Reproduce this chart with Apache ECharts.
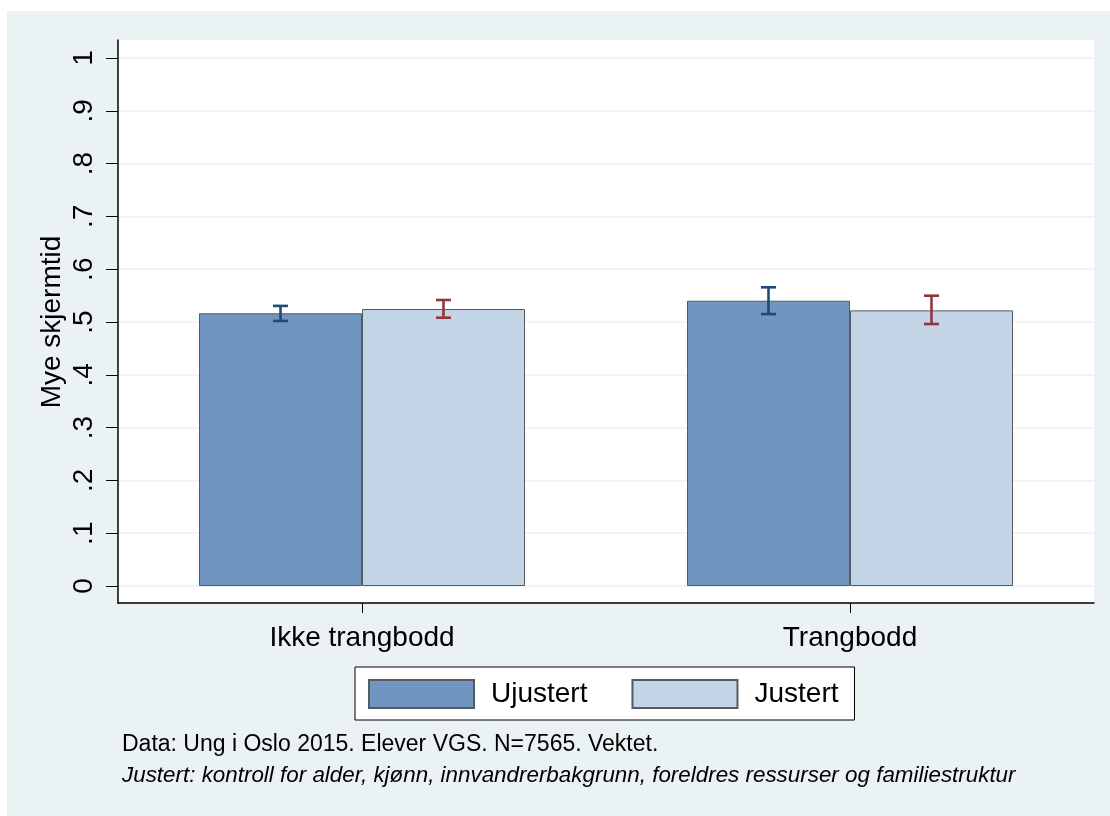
<!DOCTYPE html>
<html>
<head>
<meta charset="utf-8">
<script src="https://cdn.jsdelivr.net/npm/echarts@6/dist/echarts.min.js"></script>
<style>
  html, body { margin: 0; padding: 0; background: #ffffff; }
  #chart { position: absolute; left: 7px; top: 11px; width: 1103px; height: 805px; }
</style>
</head>
<body>
<div id="chart"></div>
<script>
const categories = ['Ikke trangbodd', 'Trangbodd'];
const seriesNames = ['Ujustert', 'Justert'];
const ujustert = [0.5165, 0.5403];
const justert = [0.5246, 0.5220];
const ujustertLo = [0.5020, 0.5150];
const ujustertHi = [0.5305, 0.5657];
const justertLo = [0.5081, 0.4962];
const justertHi = [0.5417, 0.5498];
const yTickLabels = ['0', '.1', '.2', '.3', '.4', '.5', '.6', '.7', '.8', '.9', '1'];
const yTitle = 'Mye skjermtid';
const note1 = 'Data: Ung i Oslo 2015. Elever VGS. N=7565. Vektet.';
const note2 = 'Justert: kontroll for alder, kjønn, innvandrerbakgrunn, foreldres ressurser og familiestruktur';

const FONT = '"Liberation Sans", Arial, Helvetica, sans-serif';
const CAT_GAP = 0.332;

function errRender(sign, color) {
  return function (params, api) {
    const i = api.value(0);
    const lo = api.coord([i, api.value(1)]);
    const hi = api.coord([i, api.value(2)]);
    const band = api.size([1, 0])[0];
    const off = sign * band * (1 - CAT_GAP) / 4;
    const x = lo[0] + off;
    const cap = 7.5;
    const style = { stroke: color, lineWidth: 2.6 };
    return {
      type: 'group',
      children: [
        { type: 'line', shape: { x1: x, y1: lo[1], x2: x, y2: hi[1] }, style: style },
        { type: 'line', shape: { x1: x - cap, y1: lo[1], x2: x + cap, y2: lo[1] }, style: style },
        { type: 'line', shape: { x1: x - cap, y1: hi[1], x2: x + cap, y2: hi[1] }, style: style }
      ]
    };
  };
}

const chart = echarts.init(document.getElementById('chart'), null, { renderer: 'canvas' });
chart.setOption({
  backgroundColor: '#eaf2f3',
  textStyle: { fontFamily: FONT },
  animation: false,
  title: [
    { text: note1, left: 115, top: 722, textStyle: { fontFamily: FONT, fontSize: 23, fontWeight: 'normal', color: '#000' }, padding: 0 },
    { text: note2, left: 115, top: 754, textStyle: { fontFamily: FONT, fontSize: 22.4, fontWeight: 'normal', fontStyle: 'italic', color: '#000' }, padding: 0 }
  ],
  legend: {
    data: seriesNames,
    left: 348, top: 656,
    padding: [12, 16, 11, 13],
    itemWidth: 105, itemHeight: 28, itemGap: 44,
    backgroundColor: '#ffffff',
    borderColor: '#000', borderWidth: 1, borderRadius: 0,
    icon: 'rect',
    textStyle: { fontFamily: FONT, fontSize: 28, color: '#000', padding: [0, 0, 0, 12] }
  },
  grid: [
    { left: 111, right: 16, top: 29, bottom: 213, show: true, backgroundColor: '#ffffff', borderWidth: 0 },
    { left: 111, right: 16, top: 47, bottom: 230, show: false }
  ],
  xAxis: [
    {
      gridIndex: 0, type: 'category', data: categories,
      axisLine: { show: true, lineStyle: { color: '#000', width: 1.5 } },
      axisTick: { show: true, alignWithLabel: true, length: 10, lineStyle: { color: '#000', width: 1 } },
      axisLabel: { fontFamily: FONT, fontSize: 28, color: '#000', margin: 21 },
      splitLine: { show: false }
    },
    { gridIndex: 1, type: 'category', data: categories, show: false }
  ],
  yAxis: [
    {
      gridIndex: 0, type: 'value', min: 0, max: 1,
      axisLine: { show: true, lineStyle: { color: '#000', width: 1.5 } },
      axisTick: { show: false }, axisLabel: { show: false }, splitLine: { show: false }
    },
    {
      gridIndex: 1, type: 'value', min: 0, max: 1, interval: 0.1,
      name: yTitle, nameLocation: 'middle', nameGap: 52, nameMoveOverlap: false,
      nameTextStyle: { fontFamily: FONT, fontSize: 28, color: '#000' },
      axisLine: { show: false },
      axisTick: { show: true, length: 12, inside: false, lineStyle: { color: '#000', width: 1 } },
      axisLabel: {
        fontFamily: FONT, fontSize: 28, color: '#000', rotate: 90, margin: 20,
        formatter: function (v) { return yTickLabels[Math.round(v * 10)]; }
      },
      splitLine: { show: true, lineStyle: { color: '#eaf2f3', width: 1.5 } }
    }
  ],
  series: [
    {
      name: seriesNames[0], type: 'bar', xAxisIndex: 1, yAxisIndex: 1,
      data: ujustert, barGap: '0%', barCategoryGap: (CAT_GAP * 100) + '%',
      itemStyle: { color: '#7095c1', borderColor: '#555b60', borderWidth: 1 }
    },
    {
      name: seriesNames[1], type: 'bar', xAxisIndex: 1, yAxisIndex: 1,
      data: justert, barGap: '0%', barCategoryGap: (CAT_GAP * 100) + '%',
      itemStyle: { color: '#c3d4e6', borderColor: '#555b60', borderWidth: 1 }
    },
    {
      name: 'err_u', type: 'custom', xAxisIndex: 1, yAxisIndex: 1, z: 10,
      renderItem: errRender(-1, '#1f4a78'),
      encode: { x: 0, y: [1, 2] },
      data: categories.map((c, i) => [i, ujustertLo[i], ujustertHi[i]])
    },
    {
      name: 'err_j', type: 'custom', xAxisIndex: 1, yAxisIndex: 1, z: 10,
      renderItem: errRender(1, '#90363c'),
      encode: { x: 0, y: [1, 2] },
      data: categories.map((c, i) => [i, justertLo[i], justertHi[i]])
    }
  ]
});
</script>
</body>
</html>
